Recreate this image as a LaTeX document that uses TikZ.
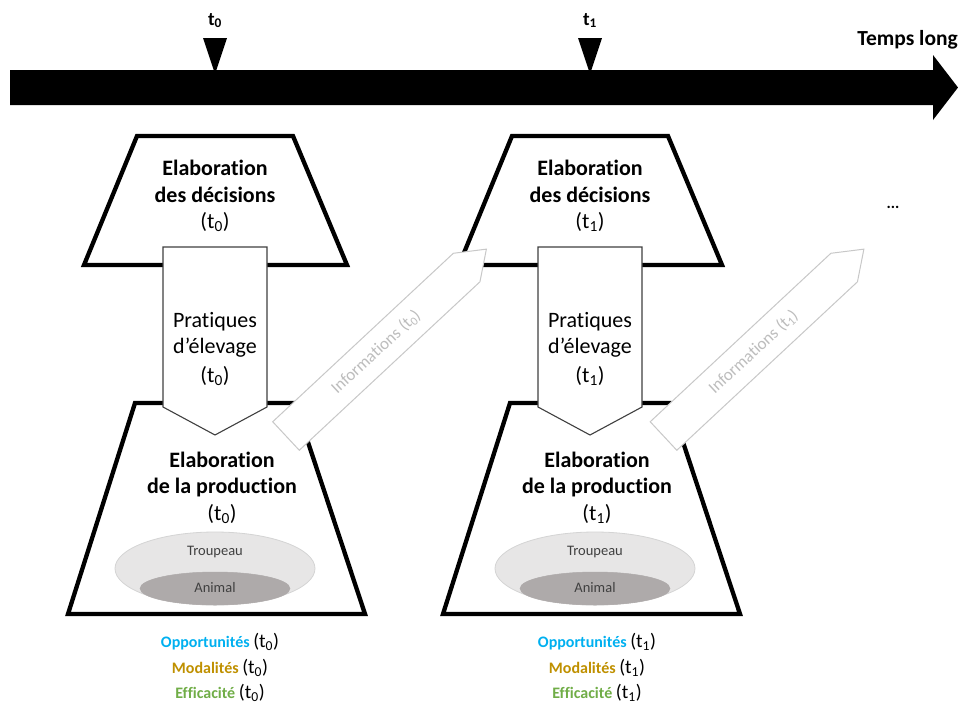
\documentclass[tikz,border=0pt]{standalone}
\usepackage{fontspec}
\setmainfont{Carlito}[Ligatures={NoCommon}]
\definecolor{opp}{HTML}{00B0F0}
\definecolor{moda}{HTML}{BF9000}
\definecolor{effi}{HTML}{70AD47}
\definecolor{infoline}{HTML}{C8C8C8}
\definecolor{infotext}{HTML}{BDBDBD}
\definecolor{troup}{HTML}{E7E6E6}
\definecolor{troupline}{HTML}{D4D4D4}
\definecolor{anim}{HTML}{AEAAAA}
\definecolor{smalltext}{HTML}{404040}
\newcommand{\tsb}[1]{t\textsubscript{#1}}
\begin{document}
\begin{tikzpicture}[x=1pt,y=-1pt,
  trap/.style={draw=black,line width=4.3pt,fill=white,line join=miter},
  prat/.style={draw=black!75,line width=1.1pt,fill=white},
  info/.style={draw=infoline,line width=1pt,fill=white},
  titlebold/.style={font=\fontsize{22}{26}\selectfont\bfseries,anchor=base,inner sep=0pt},
  plain/.style={font=\fontsize{22}{26}\selectfont,anchor=base,inner sep=0pt},
  small/.style={font=\fontsize{14.5}{16}\selectfont,text=smalltext,anchor=base,inner sep=0pt},
  bottomlbl/.style={anchor=base,inner sep=0pt},
  toplbl/.style={font=\fontsize{19}{21}\selectfont\bfseries,anchor=base,inner sep=0pt}
]
\useasboundingbox (0,0) rectangle (958,715);

% timeline
\fill[black] (10,70) -- (933,70) -- (933,55) -- (958,87.5) -- (933,120) -- (933,105) -- (10,105) -- cycle;
\node[font=\fontsize{21.5}{23}\selectfont\bfseries,anchor=base east,inner sep=0pt] (temps) at (958,45) {Temps long};
\node[font=\fontsize{16}{18}\selectfont\bfseries,anchor=base,inner sep=0pt] (dots) at (893,208) {...};

% blocks: trapezoids, texts, ellipses
\foreach \cx/\s/\ex/\bx in {215/0/215/220, 590/1/595/597} {
  % marker
  \fill[black] (\cx-12,38) -- (\cx+12,38) -- (\cx,74) -- cycle;
  \node[toplbl] (mark\s) at (\cx,25) {\tsb{\s}};
  % upper trapezoid
  \draw[trap] (\cx-78,136) -- (\cx+78,136) -- (\cx+132,265) -- (\cx-131,265) -- cycle;
  \node[titlebold] (ud1\s) at (\cx,175) {Elaboration};
  \node[titlebold] (ud2\s) at (\cx,202) {des décisions};
  \node[plain] (ud3\s) at (\cx,228) {(\tsb{\s})};
  % lower trapezoid
  \draw[trap] (\cx-80,403) -- (\cx+80,403) -- (\cx+150,614) -- (\cx-147,614) -- cycle;
  \node[titlebold] (lp1\s) at (\cx+7,467) {Elaboration};
  \node[titlebold] (lp2\s) at (\cx+7,493) {de la production};
  \node[plain] (lp3\s) at (\cx+7,520) {(\tsb{\s})};
  % ellipses
  \draw[fill=troup,draw=troupline,line width=0.8pt] (\ex,568.5) ellipse [x radius=100, y radius=36.5];
  \draw[fill=anim,draw=anim,line width=0.5pt] (\ex,588.5) ellipse [x radius=75, y radius=16.5];
  \node[small] (trp\s) at (\ex,555) {Troupeau};
  \node[small] (ani\s) at (\ex,592) {Animal};
  % bottom labels
  \node[bottomlbl] (opp\s) at (\bx,647) {\fontsize{16}{18}\selectfont\textcolor{opp}{\bfseries Opportunités} \fontsize{19.5}{21}\selectfont(\tsb{\s})};
  \node[bottomlbl] (mod\s) at (\bx,673) {\fontsize{16}{18}\selectfont\textcolor{moda}{\bfseries Modalités} \fontsize{19.5}{21}\selectfont(\tsb{\s})};
  \node[bottomlbl] (eff\s) at (\bx,698) {\fontsize{16}{18}\selectfont\textcolor{effi}{\bfseries Efficacité} \fontsize{19.5}{21}\selectfont(\tsb{\s})};
}

% Pratiques arrows
\foreach \cx/\s in {215/0, 590/1} {
  \draw[prat] (\cx-52,247) -- (\cx+52,247) -- (\cx+52,407) -- (\cx,435) -- (\cx-52,407) -- cycle;
  \node[plain] (pr1\s) at (\cx,327) {Pratiques};
  \node[plain] (pr2\s) at (\cx,353) {d’élevage};
  \node[plain] (pr3\s) at (\cx,382) {(\tsb{\s})};
}

% Informations arrows
\foreach \ix/\s in {286/0, 663.5/1} {
  \begin{scope}[shift={(\ix,436)},rotate=43]
    \draw[info] (0,-19.5) -- (247,-19.5) -- (274,0) -- (247,19.5) -- (0,19.5) -- cycle;
    \node[rotate=43,text=infotext,font=\fontsize{17}{19}\selectfont,inner sep=0pt] (inf\s) at (123,0) {Informations (\tsb{\s})};
  \end{scope}
}
\end{tikzpicture}
\end{document}
